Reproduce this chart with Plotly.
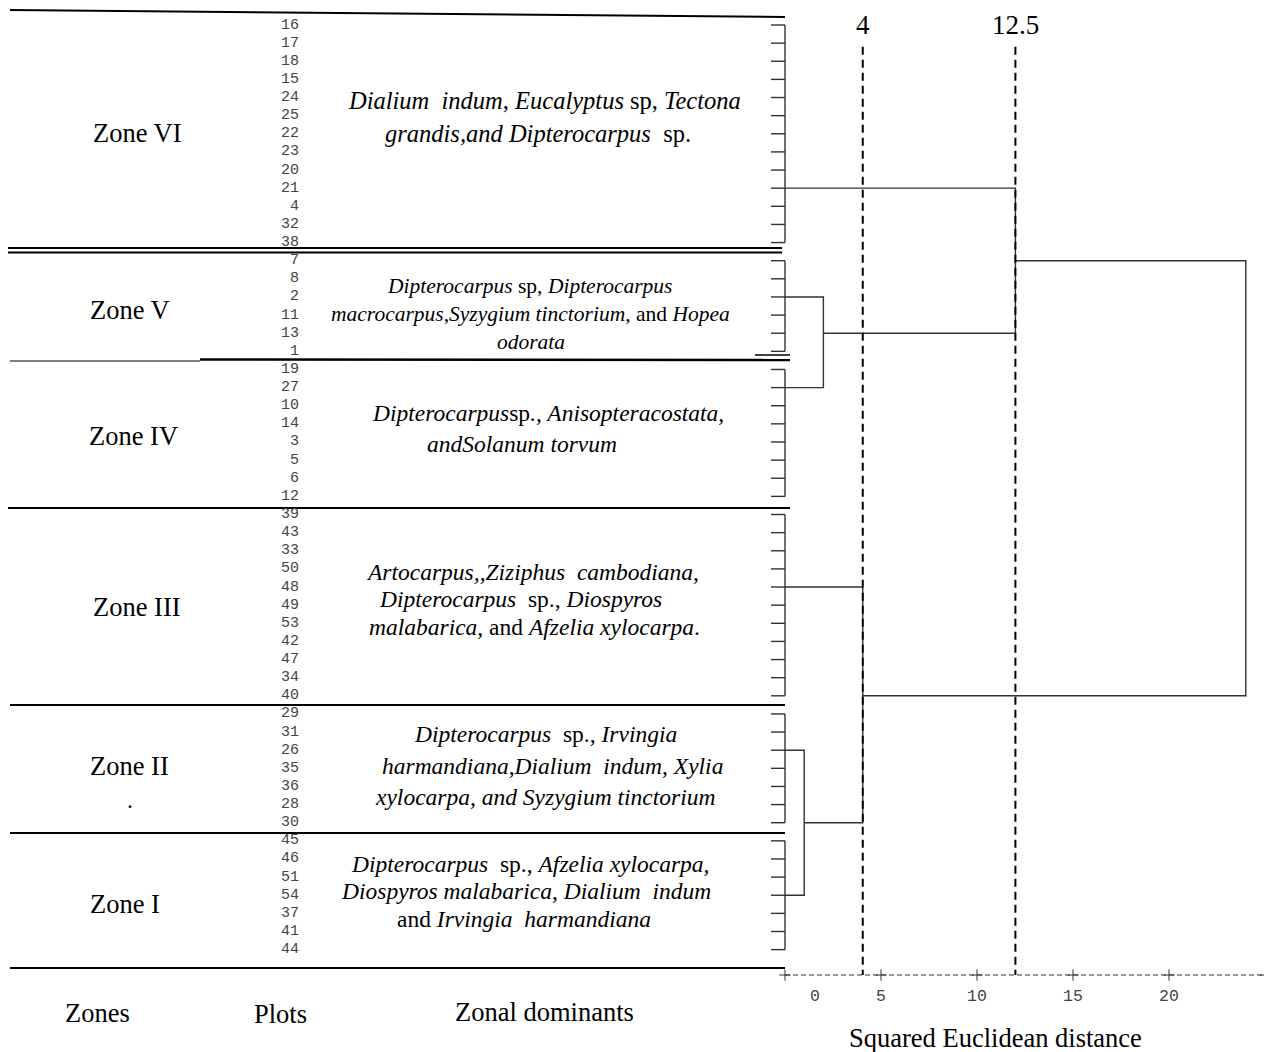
import plotly.graph_objects as go

# page is 1272x1052; browser body margin offsets the figure by 8px
OFF = 8
W, H = 1272 - OFF, 1052 - OFF

# ---------------- data ----------------
zones = ["Zone VI", "Zone V", "Zone IV", "Zone III", "Zone II", "Zone I"]
plots_VI = ["16", "17", "18", "15", "24", "25", "22", "23", "20", "21", "4", "32", "38"]
plots_V = ["7", "8", "2", "11", "13", "1"]
plots_IV = ["19", "27", "10", "14", "3", "5", "6", "12"]
plots_III = ["39", "43", "33", "50", "48", "49", "53", "42", "47", "34", "40"]
plots_II = ["29", "31", "26", "35", "36", "28", "30"]
plots_I = ["45", "46", "51", "54", "37", "41", "44"]
zone_plots = [plots_VI, plots_V, plots_IV, plots_III, plots_II, plots_I]
# representative leaf (row where the cluster's branch leaves)
zone_rep = ["21", "2", "27", "48", "26", "54"]

# agglomeration: (child A, child B, distance, representative leaf of merged cluster, name)
merges = [
    ("Zone II", "Zone I", 1.0, "30", "m1"),
    ("Zone V", "Zone IV", 2.0, "13", "m2"),
    ("Zone III", "m1", 4.05, "40", "m3"),
    ("Zone VI", "m2", 12.0, "7", "m4"),
    ("m4", "m3", 24.0, None, "m5"),
]

cut_pos = [4.05, 12.0]
cut_labels = ["4", "12.5"]
axis_ticks = [0, 5, 10, 15, 20, 25]
tick_label_pos = [1.55, 5, 10, 15, 20]
tick_labels = ["0", "5", "10", "15", "20"]

dominants = [
    ["<i>Dialium  indum</i>, <i>Eucalyptus</i> sp, <i>Tectona</i>",
     "<i>grandis,and Dipterocarpus</i>  sp."],
    ["<i>Dipterocarpus</i> sp, <i>Dipterocarpus</i>",
     "<i>macrocarpus,Syzygium tinctorium</i>, and <i>Hopea</i>",
     "<i>odorata</i>"],
    ["<i>Dipterocarpus</i>sp<i>., Anisopteracostata,</i>",
     "<i>andSolanum torvum</i>"],
    ["<i>Artocarpus,,Ziziphus  cambodiana,</i>",
     "<i>Dipterocarpus</i>  sp., <i>Diospyros</i>",
     "<i>malabarica,</i> and <i>Afzelia xylocarpa</i>."],
    ["<i>Dipterocarpus</i>  sp.<i>, Irvingia</i>",
     "<i>harmandiana,Dialium  indum, Xylia</i>",
     "<i>xylocarpa, and Syzygium tinctorium</i>"],
    ["<i>Dipterocarpus</i>  sp., <i>Afzelia xylocarpa,</i>",
     "<i>Diospyros malabarica</i>, <i>Dialium  indum</i>",
     "and <i>Irvingia  harmandiana</i>"],
]

# ---------------- layout helpers (styles / positions) ----------------
SERIF = "Liberation Serif, Times New Roman, serif"
MONO = "Liberation Mono, Courier New, monospace"
LINE_C = "#333333"

def px(x):
    return (x - OFF) / W

def py(y):
    return 1 - (y - OFF) / H

leaves = [p for zp in zone_plots for p in zp]
leaf_idx = {p: i for i, p in enumerate(leaves)}

fig = go.Figure()

# ---------------- dendrogram ----------------
stub = 0.73
dx, dy = [], []
for p in leaves:
    i = leaf_idx[p]
    dx += [-stub, 0, None]
    dy += [i, i, None]

cluster_pos = {}  # name -> (y, height)
for z, zp, rep in zip(zones, zone_plots, zone_rep):
    dx += [0, 0, None]
    dy += [leaf_idx[zp[0]], leaf_idx[zp[-1]], None]
    cluster_pos[z] = (leaf_idx[rep], 0.0)

for a, b, h, rep, name in merges:
    ya, ha = cluster_pos[a]
    yb, hb = cluster_pos[b]
    dx += [ha, h, h, hb, None]
    dy += [ya, ya, yb, yb, None]
    cluster_pos[name] = (leaf_idx[rep] if rep else (ya + yb) / 2, h)

fig.add_trace(go.Scatter(x=dx, y=dy, mode="lines",
                         line=dict(color=LINE_C, width=1.4),
                         hoverinfo="skip", showlegend=False))

axis_y = 52.4
# cut lines
for c in cut_pos:
    fig.add_trace(go.Scatter(x=[c, c], y=[1.2, axis_y], mode="lines",
                             line=dict(color="black", width=2, dash="8px,5px"),
                             hoverinfo="skip", showlegend=False))
for c, lab in zip(cut_pos, cut_labels):
    fig.add_annotation(x=c, y=0.0, xref="x", yref="y", text=lab, showarrow=False,
                       font=dict(family=SERIF, size=27, color="black"),
                       xanchor="center", yanchor="middle", borderpad=0)

# bottom dashed axis with + ticks
fig.add_trace(go.Scatter(x=[axis_ticks[0], axis_ticks[-1]], y=[axis_y, axis_y], mode="lines",
                         line=dict(color=LINE_C, width=1, dash="5px,3px"),
                         hoverinfo="skip", showlegend=False))
fig.add_trace(go.Scatter(x=axis_ticks, y=[axis_y] * len(axis_ticks), mode="markers",
                         marker=dict(symbol="cross-thin", size=8,
                                     line=dict(color=LINE_C, width=1)),
                         hoverinfo="skip", showlegend=False))
for t, lab in zip(tick_label_pos, tick_labels):
    fig.add_annotation(x=t, y=53.6, xref="x", yref="y", text=lab, showarrow=False,
                       font=dict(family=MONO, size=16.5, color="#444444"),
                       xanchor="center", yanchor="middle")

# leaf (plot) numbers
for p in leaves:
    fig.add_annotation(x=px(301), y=leaf_idx[p], xref="paper", yref="y", text=p,
                       showarrow=False, font=dict(family=MONO, size=15, color="#444444"),
                       xanchor="right", yanchor="middle")

# ---------------- table lines ----------------
def hline(x0, y0, x1, y1, w):
    fig.add_shape(type="line", xref="paper", yref="paper",
                  x0=px(x0), y0=py(y0), x1=px(x1), y1=py(y1),
                  line=dict(color="black", width=w))

hline(10, 10, 785, 17, 2)
hline(5, 248, 782, 248, 2)
hline(5, 252.5, 782, 252.5, 2)
hline(10, 361, 200, 361, 1)
hline(200, 359.5, 790, 360, 2.5)
hline(755, 355, 790, 355, 1.5)
hline(8, 508, 790, 508, 2)
hline(10, 705, 785, 705, 2)
hline(10, 833, 785, 833, 2)
hline(10, 968, 785, 968, 2)

def text(x, y, s, size, family=SERIF, color="black"):
    fig.add_annotation(x=px(x), y=py(y), xref="paper", yref="paper", text=s,
                       showarrow=False, font=dict(family=family, size=size, color=color),
                       xanchor="center", yanchor="middle")

zone_label_xy = [(137, 133), (130, 310), (133, 436), (137, 607), (129, 766), (125, 904)]
for z, (x, y) in zip(zones, zone_label_xy):
    text(x, y, z, 26.5)
text(130, 800, ".", 24)

dom_xy = [
    [(544, 101), (538, 133)],
    [(530, 286), (530, 314), (531, 342)],
    [(548, 413), (522, 444)],
    [(532, 572), (520, 599), (534, 627)],
    [(545, 734), (552, 766), (545, 797)],
    [(530, 864), (526, 891), (524, 919)],
]
dom_size = [24.5, 21.5, 23.5, 23.5, 23.5, 23.5]
for lines, xys, s in zip(dominants, dom_xy, dom_size):
    for ln, (x, y) in zip(lines, xys):
        text(x, y, ln.replace("  ", " &nbsp;"), s)

text(97, 1013, "Zones", 26.5)
text(280, 1014, "Plots", 26.5)
text(544, 1012, "Zonal dominants", 26.5)
text(996, 1038, "Squared Euclidean distance", 26.5)

# ---------------- axes ----------------
x_px0, x_px1 = 765, 1272
scale_x = 19.2
fig.update_xaxes(domain=[px(x_px0), 1], range=[(x_px0 - 785) / scale_x, (x_px1 - 785) / scale_x],
                 visible=False)
leaf_px0, leaf_step = 25, 18.13
fig.update_yaxes(domain=[0, 1], range=[(1052 - leaf_px0) / leaf_step, (OFF - leaf_px0) / leaf_step],
                 visible=False)

fig.update_layout(width=W, height=H, margin=dict(l=0, r=0, t=0, b=0),
                  plot_bgcolor="white", paper_bgcolor="white", showlegend=False)

fig.write_html("out.html")
